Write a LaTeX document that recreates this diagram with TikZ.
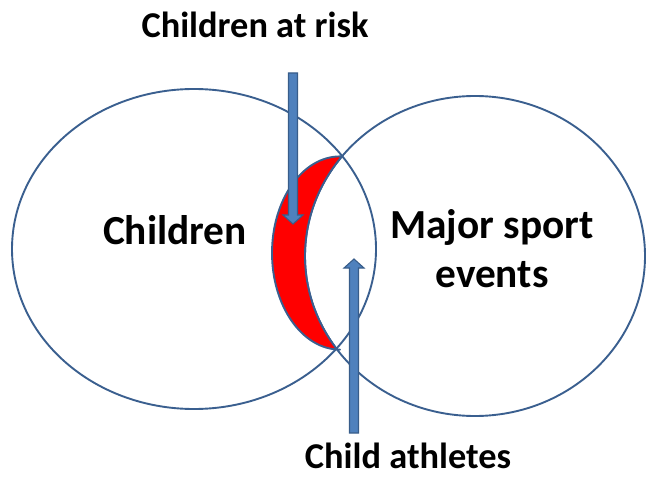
\documentclass[tikz,border=0pt]{standalone}
\usepackage{fontspec}
\setmainfont{Carlito}
\definecolor{ringblue}{HTML}{3A5F8F}
\definecolor{arrowfill}{HTML}{4F81BD}
\definecolor{arrowline}{HTML}{385D8A}
\definecolor{crescentred}{HTML}{FF0000}
\begin{document}
\begin{tikzpicture}[x=1bp,y=-1bp,
  ring/.style={draw=ringblue,line width=1.9bp},
  blockarrow/.style={fill=arrowfill,draw=arrowline,line width=1.1bp,line join=miter},
  biglabel/.style={font=\bfseries\fontsize{41.5}{49}\selectfont,inner sep=0pt,anchor=base,align=center},
  smalllabel/.style={font=\bfseries\fontsize{36.5}{44}\selectfont,inner sep=0pt,anchor=base}]
\useasboundingbox (0,0) rectangle (646,482);
% circles
\draw[ring] (194,249) ellipse[x radius=182,y radius=160];
\draw[ring] (475,256) ellipse[x radius=170,y radius=160];
% crescent
\draw[ring,fill=crescentred,line join=round] (340,156.4) arc[start angle=270,end angle=90,x radius=68,y radius=96.6]
   -- (337.1,349.6) arc[start angle=144.2,end angle=218.5,x radius=170,y radius=160] -- cycle;
% labels
\node[smalllabel] (risk) at (255,38) {Children at risk};
\node[biglabel] (children) at (175,245) {Children};
\node[biglabel] (sport) at (492,287) {Major sport\\events};
\node[smalllabel] (athletes) at (408,468) {Child athletes};
% arrows
\coordinate (a1s) at (293,73);
\coordinate (a1e) at (293,224);
\coordinate (a2s) at (354,433);
\coordinate (a2e) at (354,259);
\draw[blockarrow] ([xshift=-4.5bp]a1s) -- ([xshift=-4.5bp,yshift=9bp]a1e) -- ([xshift=-10bp,yshift=9bp]a1e)
   -- (a1e) -- ([xshift=10bp,yshift=9bp]a1e) -- ([xshift=4.5bp,yshift=9bp]a1e) -- ([xshift=4.5bp]a1s) -- cycle;
\draw[blockarrow] ([xshift=-4.5bp]a2s) -- ([xshift=-4.5bp,yshift=-9bp]a2e) -- ([xshift=-10bp,yshift=-9bp]a2e)
   -- (a2e) -- ([xshift=10bp,yshift=-9bp]a2e) -- ([xshift=4.5bp,yshift=-9bp]a2e) -- ([xshift=4.5bp]a2s) -- cycle;
\end{tikzpicture}
\end{document}
